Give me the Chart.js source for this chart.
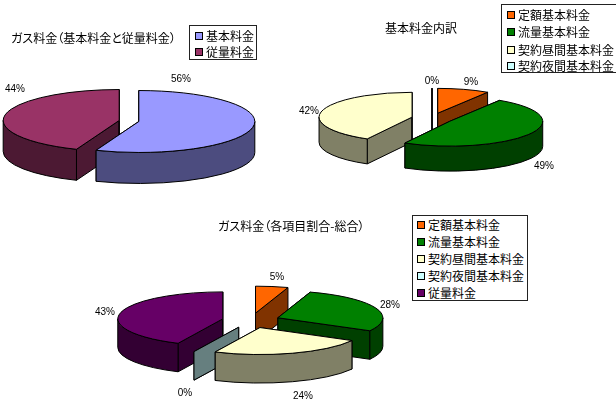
<!DOCTYPE html>
<html lang="ja">
<head>
<meta charset="utf-8">
<title>ガス料金</title>
<script src="https://cdn.jsdelivr.net/npm/chart.js@4"></script>
<style>
  html, body { margin: 0; padding: 0; background: #fff; overflow: hidden; }
  #page { position: relative; width: 616px; height: 405px; overflow: hidden;
          font-family: "Noto Sans CJK JP", sans-serif; color: #000; }
  canvas { position: absolute; left: 0; top: 0; }
  .title { position: absolute; font-size: 12px; line-height: 14px; white-space: nowrap;
           font-feature-settings: "palt"; }
  .legend { position: absolute; box-sizing: border-box; background: #fff; border: 1px solid #222; }
  .legend div { position: absolute; font-size: 12px; line-height: 14px; white-space: nowrap; }
  .legend i { position: absolute; box-sizing: border-box; width: 8px; height: 8px; border: 1px solid #000; }
</style>
</head>
<body>
<div id="page">
  <canvas id="pieTotal" width="616" height="405"></canvas>
  <canvas id="pieBase" width="616" height="405"></canvas>
  <canvas id="pieAll" width="616" height="405"></canvas>
</div>
<script>
const totalCategories = ['基本料金', '従量料金'];
const totalValues = [56, 44];
const totalColors = ['#9999ff', '#993366'];
const totalWalls = ['#4c4c7f', '#4c1933'];

const baseCategories = ['定額基本料金', '流量基本料金', '契約昼間基本料金', '契約夜間基本料金'];
const baseValues = [9, 49, 42, 0];
const baseColors = ['#ff6600', '#008000', '#ffffcc', '#ccffff'];
const baseWalls = ['#803300', '#004000', '#808066', '#667f7f'];

const allCategories = ['定額基本料金', '流量基本料金', '契約昼間基本料金', '契約夜間基本料金', '従量料金'];
const allValues = [5, 28, 24, 0, 43];
const allColors = ['#ff6600', '#008000', '#ffffcc', '#ccffff', '#660066'];
const allWalls = ['#803300', '#004000', '#808066', '#667f7f', '#330033'];

// flattens the pie and gives it a side wall, slices are painted back to front
const tiltedPie = {
  id: 'tiltedPie',
  beforeDatasetsDraw(chart, args, opts) {
    const ctx = chart.ctx;
    const arcs = chart.getDatasetMeta(0).data.slice();
    const ry = a => a.outerRadius * opts.tilt;
    const shift = a => {
      const mid = (a.startAngle + a.endAngle) / 2;
      return { x: a.x + Math.cos(mid) * opts.explode, y: a.y + Math.sin(mid) * opts.explode * opts.tilt };
    };
    const outline = color => {
      ctx.fillStyle = color;
      ctx.fill();
      ctx.lineWidth = 1;
      ctx.strokeStyle = '#000';
      ctx.stroke();
    };
    const radialWall = (c, a, angle, color) => {
      const px = c.x + Math.cos(angle) * a.outerRadius;
      const py = c.y + Math.sin(angle) * ry(a);
      ctx.beginPath();
      ctx.moveTo(c.x, c.y);
      ctx.lineTo(px, py);
      ctx.lineTo(px, py + opts.depth);
      ctx.lineTo(c.x, c.y + opts.depth);
      ctx.closePath();
      outline(color);
    };

    arcs.sort((p, q) => shift(p).y - shift(q).y);
    arcs.forEach(a => {
      const c = shift(a);
      const wall = opts.walls[a.$context.dataIndex];
      radialWall(c, a, a.startAngle, wall);
      radialWall(c, a, a.endAngle, wall);

      // only the front half of the rim shows
      const lo = Math.max(a.startAngle, 0);
      const hi = Math.min(a.endAngle, Math.PI);
      if (hi > lo) {
        ctx.beginPath();
        ctx.ellipse(c.x, c.y, a.outerRadius, ry(a), 0, lo, hi);
        ctx.ellipse(c.x, c.y + opts.depth, a.outerRadius, ry(a), 0, hi, lo, true);
        ctx.closePath();
        outline(wall);
      }

      ctx.save();
      ctx.translate(c.x, c.y);
      ctx.scale(1, opts.tilt);
      ctx.translate(-a.x, -a.y);
      a.draw(ctx);
      ctx.restore();

      if (a.endAngle > a.startAngle) {
        ctx.beginPath();
        ctx.moveTo(c.x, c.y);
        ctx.ellipse(c.x, c.y, a.outerRadius, ry(a), 0, a.startAngle, a.endAngle);
        ctx.closePath();
        ctx.lineWidth = 1;
        ctx.strokeStyle = '#000';
        ctx.stroke();
      }
    });
    return false;
  },
  // the dataset hooks stop once beforeDatasetsDraw returns false, so labels go here
  afterDraw(chart, args, opts) {
    const ctx = chart.ctx;
    ctx.font = '10px "Liberation Sans", sans-serif';
    ctx.fillStyle = '#000';
    ctx.textAlign = 'center';
    ctx.textBaseline = 'middle';
    chart.data.datasets[0].data.forEach((v, i) => {
      ctx.fillText(v + '%', opts.labelAt[i][0], opts.labelAt[i][1]);
    });
  }
};

const drawPie = (id, categories, values, colors, walls, view) => {
  new Chart(document.getElementById(id), {
    type: 'pie',
    data: {
      labels: categories,
      datasets: [{ data: values, backgroundColor: colors, borderWidth: 0 }]
    },
    options: {
      responsive: false,
      animation: false,
      events: [],
      radius: view.radius,
      layout: {
        padding: {
          left: Math.max(2 * view.cx - 616, 0),
          right: Math.max(616 - 2 * view.cx, 0),
          top: Math.max(2 * view.cy - 405, 0),
          bottom: Math.max(405 - 2 * view.cy, 0)
        }
      },
      plugins: {
        legend: { display: false },
        title: { display: false },
        tooltip: { enabled: false },
        tiltedPie: view
      }
    },
    plugins: [tiltedPie]
  });
};

const addTitle = (text, x, y) => {
  const el = document.createElement('div');
  el.className = 'title';
  el.textContent = text;
  el.style.left = x + 'px';
  el.style.top = y + 'px';
  document.getElementById('page').appendChild(el);
};

const addLegend = (categories, colors, box, rows) => {
  const el = document.createElement('div');
  el.className = 'legend';
  el.style.left = box.x + 'px';
  el.style.top = box.y + 'px';
  el.style.width = box.w + 'px';
  el.style.height = box.h + 'px';
  categories.forEach((name, i) => {
    const swatch = document.createElement('i');
    swatch.style.left = box.swatch + 'px';
    swatch.style.top = rows[i] - 4 + 'px';
    swatch.style.background = colors[i];
    const label = document.createElement('div');
    label.textContent = name;
    label.style.left = box.text + 'px';
    label.style.top = rows[i] - 7 + 'px';
    el.appendChild(swatch);
    el.appendChild(label);
  });
  document.getElementById('page').appendChild(el);
};

drawPie('pieTotal', totalCategories, totalValues, totalColors, totalWalls, {
  cx: 129, cy: 121, radius: 116, tilt: 0.267, depth: 31, explode: 10, walls: totalWalls,
  labelAt: [[181, 79], [15, 89]]
});
drawPie('pieBase', baseCategories, baseValues, baseColors, baseWalls, {
  cx: 432, cy: 118.5, radius: 93, tilt: 0.267, depth: 25, explode: 20.6, walls: baseWalls,
  labelAt: [[471, 82], [544, 166], [309, 111], [432, 81]]
});
drawPie('pieAll', allCategories, allValues, allColors, allWalls, {
  cx: 251, cy: 320.5, radius: 105, tilt: 0.257, depth: 28.5, explode: 28.9, walls: allWalls,
  labelAt: [[277, 277], [390, 305], [303, 396], [185, 393], [105, 312]]
});

addTitle('ガス料金（基本料金と従量料金）', 11, 31);
addTitle('基本料金内訳', 385, 21);
addTitle('ガス料金（各項目割合-総合）', 218, 219);

addLegend(totalCategories, totalColors, { x: 189, y: 25, w: 68, h: 35, swatch: 5, text: 16 }, [10, 26]);
addLegend(baseCategories, baseColors, { x: 501, y: 4, w: 130, h: 69, swatch: 5, text: 16 }, [10, 27, 45, 61]);
addLegend(allCategories, allColors, { x: 412, y: 215, w: 116, h: 86, swatch: 4, text: 15 }, [9, 26, 43, 60, 77]);
</script>
</body>
</html>
